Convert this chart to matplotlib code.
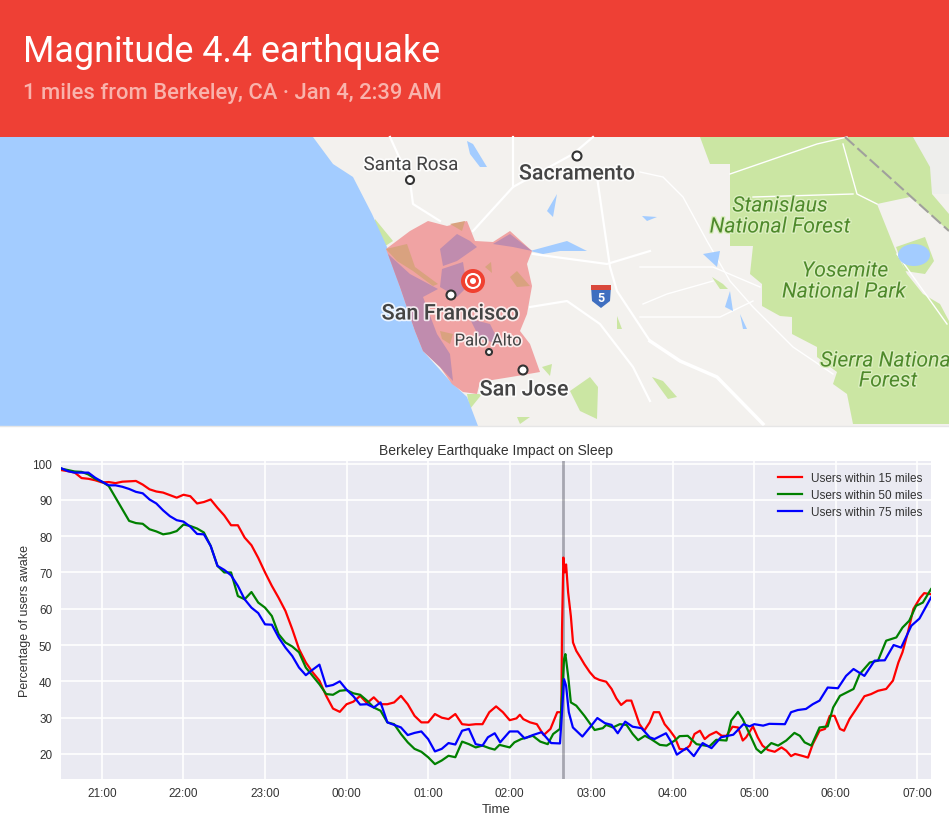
import matplotlib
matplotlib.use("Agg")
import matplotlib.pyplot as plt
import matplotlib.patheffects as pe
from matplotlib.patches import Circle, Ellipse, Polygon, Rectangle

# minutes after midnight on the chart, negative = evening before
grid_before = [-210 + 5 * k for k in range(62)]

values_15_before = [98.2, 97.9, 97.5, 96, 95.8, 95.4, 94.8, 94.9, 94.6, 95, 95.1, 95.2, 94.2, 92.9, 92.3, 92,
                    91.3, 90.6, 91.4, 91, 89, 89.4, 90.1, 87.8, 85.7, 83, 83, 79.6, 77.5, 74, 70, 66.3,
                    63, 59.4, 54.4, 48.9, 45.2, 42.5, 40.2, 36, 32.5, 31.6, 33.7, 34.4, 36, 34, 35.6, 33.7,
                    33.7, 34.2, 36, 33.7, 30.5, 28.7, 28.7, 31, 30, 29.6, 31, 28.2, 28, 28.2]
times_15_after = [100, 105, 110, 115, 120, 125, 127.5, 130, 135, 140, 145, 150, 155, 158, 158.5, 159.5, 160.5,
                  161.5, 163, 165, 166.6, 169, 172, 175, 179, 182.5, 186, 191, 195, 198.5, 202, 206, 209.5,
                  212.5, 215.5, 219, 223, 226, 230, 234, 238, 241.5, 245, 249, 252.5, 256, 260, 263.5, 267,
                  272, 276, 279.5, 284, 288, 291.5, 294, 299, 302.5, 306, 310, 315, 320, 323.5, 327, 330,
                  336, 339.5, 343, 348, 352, 355.5, 359, 363, 366, 370, 375, 381, 386, 391, 397, 402, 406,
                  409, 413, 417, 422, 425, 430]
values_15_after = [28.2, 31.5, 33.1, 31.5, 29.3, 29.8, 30.8, 29.6, 28.7, 28.2, 25.2, 26.9, 31.5, 31.5, 54, 74.1, 70,
                   72.2, 64.5, 58, 50.7, 48.4, 46.6, 44.7, 42.5, 41, 40.4, 39.9, 37.9, 35.3, 33.5, 34.7, 34.7,
                   31.5, 28.2, 26.4, 28.7, 31.5, 31.5, 28.2, 26.4, 24.6, 21.4, 21.2, 22.3, 25.5, 26.4, 24.1, 25.2,
                   26.1, 25, 25, 27.5, 27.3, 23.7, 24.6, 27.6, 24.6, 22.3, 21.1, 20.6, 21.8, 20.9, 19.4, 20,
                   19.4, 19, 22.7, 26.4, 26.9, 30.5, 30.5, 26.9, 26.4, 29.6, 32.4, 35.9, 36.5, 37.4, 37.9, 40.2, 45.2,
                   48, 53.5, 59.9, 63, 64.3, 64]

values_50_before = [98.6, 98.2, 97.8, 97.7, 97, 95.8, 95, 93.8, 90.6, 87.4, 84.2, 83.6, 83.4, 81.9, 81.3, 80.5,
                    80.8, 81.4, 83.2, 82.8, 82.1, 81, 77.3, 71.8, 70, 70, 63.5, 62.6, 64.6, 61.7, 60.3, 58,
                    53, 50.7, 49.6, 48, 43.8, 41.5, 39.2, 36.5, 36.3, 37.4, 37.6, 36.7, 36.3, 34.7, 32.8, 31.9,
                    28.7, 28.2, 25.5, 23.2, 21.4, 20.6, 19.1, 17.2, 18.2, 19.5, 19.1, 23.4, 22.7, 21.8]
times_50_after = [100, 105, 109, 112.5, 120, 123.5, 128.5, 137, 142.5, 148, 152, 157, 158.5, 160, 161, 163, 165,
                  169, 175, 182.5, 188.5, 191, 196, 201, 206, 210.5, 214.5, 219.5, 224, 230.5, 235.5, 241.5, 245,
                  251, 257.5, 267, 272, 279.5, 283, 288, 291.5, 296.5, 301.5, 305, 312.5, 317.5, 323.5, 329.5,
                  333.5, 337, 342, 348, 354, 358, 363, 373, 377.5, 385, 391, 397, 404.5, 409, 414, 419, 424, 430]
values_50_after = [22.3, 21.6, 21.2, 22.5, 21.8, 23.2, 24.1, 25, 23.4, 22.7, 25.5, 26.9, 36, 46.1, 47.5, 41.5, 34.2,
                   33.3, 30.5, 26.6, 27.1, 28, 27.3, 28.2, 28, 25.5, 23.8, 25, 24.1, 22.5, 22.3, 23.7, 24.9,
                   25, 22.7, 22.1, 23.9, 23.7, 29.2, 31.6, 29.6, 25.5, 21.4, 20.3, 23, 22.3, 23.7, 25.8,
                   25, 23.2, 22.3, 27.3, 27.6, 32.8, 36, 37.9, 42, 45.2, 45.7, 51.2, 52.1, 54.8, 56.7, 60.8, 61.7, 65.4]

values_75_before = [98.7, 97.9, 97.5, 97.5, 97.5, 96.1, 95, 94, 94, 93.6, 93, 92.2, 91.8, 90.1, 89, 87.1,
                    85.5, 84.4, 84, 82.6, 80.6, 80.5, 77.3, 71.8, 70.7, 69.2, 66.3, 62.6, 60.3, 58.8, 55.7, 55.6,
                    52.1, 49.3, 47, 43.8, 41.7, 43.2, 44.6, 38.6, 39, 40, 37.7, 35.9, 33.6, 33.7, 32.8, 34.2,
                    28.7, 28, 27.3, 25.2, 25.8, 26.2, 24.1, 20.7, 21.4, 23, 22.6, 26.4, 26.9, 22.7]
times_75_after = [100, 104, 109, 113, 120, 126, 131, 137, 143.5, 150.5, 157, 158.5, 160, 161.5, 163.5, 166.5,
                  173.5, 179, 184.5, 190, 195, 199.5, 205, 210.5, 217, 223, 226.5, 235, 239, 243, 250, 255.5,
                  262, 268.5, 275.5, 284.5, 292, 296.5, 300, 306.5, 311, 322.5, 327, 332, 338, 343, 348, 354,
                  361.5, 367.5, 373, 381, 388.5, 396, 402.5, 408, 415.5, 421.5, 430]
values_75_after = [22.3, 24.6, 25.7, 23.2, 26.2, 26.2, 24.3, 25.2, 26, 23, 22.9, 31.5, 40.6, 38.8, 31.5, 27.3,
                   24.8, 27.3, 29.9, 28.5, 28, 25.7, 28.9, 27.5, 27.1, 24.6, 24.1, 25.7, 23.2, 19.8, 21.6, 19.4,
                   23, 21.6, 24.6, 25.3, 28.2, 27.6, 28.2, 27.8, 28.3, 28.2, 31.5, 32.1, 32.4, 33.7, 34.7, 38.3,
                   38.1, 41.5, 43.4, 41.5, 45.7, 45.8, 50, 49.3, 55.3, 57.3, 63.1]

quake_minute = 159.5
hour_ticks = [-180, -120, -60, 0, 60, 120, 180, 240, 300, 360, 420]
hour_labels = ['21:00', '22:00', '23:00', '00:00', '01:00', '02:00', '03:00', '04:00', '05:00', '06:00', '07:00']
percent_ticks = [20, 30, 40, 50, 60, 70, 80, 90, 100]

# map shapes, in picture pixels
ocean = [(0, 138), (313, 138), (333, 165), (353, 178), (372, 215), (387, 248), (400, 288), (415, 332), (423, 352),
         (450, 382), (467, 398), (478, 427), (0, 427)]
shake_zone = [(386, 250), (410, 232), (428, 222), (447, 227), (467, 222), (475, 242), (493, 243), (510, 232),
              (532, 252), (527, 265), (532, 287), (527, 315), (520, 332), (530, 345), (540, 373), (517, 377),
              (480, 383), (477, 395), (463, 393), (452, 385), (440, 368), (423, 352), (415, 332), (400, 288)]
shake_purple = [
    [(388, 255), (410, 275), (438, 290), (423, 298), (437, 335), (450, 355), (453, 382), (440, 368), (423, 352),
     (415, 332), (400, 288)],
    [(440, 250), (457, 235), (470, 242), (477, 248), (457, 262), (443, 267)],
    [(493, 245), (510, 235), (532, 252), (513, 248)],
    [(442, 270), (463, 263), (467, 288), (457, 298), (440, 288)],
    [(470, 320), (490, 325), (500, 345), (480, 340)],
]
shake_orange = [
    [(386, 250), (407, 245), (415, 268), (438, 285), (433, 287), (413, 272), (397, 262)],
    [(510, 278), (517, 272), (530, 287), (517, 288)],
    [(440, 332), (453, 335), (450, 345), (442, 340)],
    [(450, 225), (465, 222), (462, 232)],
    [(485, 268), (491, 263), (492, 274)],
]
forest = [(700, 138), (710, 165), (730, 165), (730, 247), (753, 247), (750, 275), (762, 285), (762, 307), (780, 317),
          (792, 318), (792, 335), (817, 348), (817, 358), (837, 373), (833, 385), (847, 395), (853, 425), (949, 425),
          (949, 322), (940, 305), (923, 295), (907, 275), (897, 255), (877, 205), (910, 198), (949, 232), (949, 215),
          (932, 195), (930, 168), (913, 138)]
small_green = [
    [(375, 220), (393, 242), (370, 257)],
    [(467, 395), (482, 395), (470, 410)],
    [(570, 392), (590, 378), (598, 388), (597, 420), (580, 412)],
    [(517, 418), (530, 418), (520, 425)],
    [(542, 368), (552, 365), (550, 377)],
    [(617, 317), (622, 330), (617, 330)],
    [(652, 378), (663, 382), (677, 398), (668, 400)],
    [(712, 278), (723, 285), (728, 290), (720, 290)],
    [(896, 248), (925, 238), (934, 262), (925, 275), (905, 272)],
]
lakes = [
    [(467, 142), (473, 145), (487, 168), (480, 168), (470, 155)],
    [(557, 195), (547, 212), (553, 218)],
    [(530, 252), (567, 242), (587, 252), (560, 252), (543, 255)],
    [(703, 255), (720, 252), (717, 268)],
    [(730, 292), (733, 312), (725, 308)],
    [(740, 315), (747, 330), (743, 330)],
    [(642, 217), (657, 218), (647, 222)],
]
main_roads = [
    [(390, 138), (410, 182), (413, 205), (440, 222)],
    [(473, 232), (513, 188), (573, 155), (593, 138)],
    [(513, 138), (513, 188)],
    [(597, 178), (610, 268), (617, 292), (650, 342)],
    [(530, 308), (567, 302), (600, 325), (633, 368), (650, 402)],
    [(533, 255), (607, 265), (650, 252)],
]
thin_roads = [
    [(640, 173), (663, 178), (683, 198), (707, 242), (730, 282), (753, 308), (793, 348), (833, 375)],
    [(640, 268), (713, 268), (760, 288)],
    [(643, 305), (667, 295), (713, 282)],
    [(640, 318), (720, 318), (753, 302)],
    [(730, 175), (817, 145), (847, 138)],
    [(843, 145), (857, 195), (877, 205)],
    [(753, 198), (853, 195)],
    [(897, 255), (947, 325)],
]
interstate = [(650, 342), (680, 362), (717, 378), (763, 425)]
state_line = [(845, 138), (949, 232)]
city_dots = [(410, 181, 4.0), (577, 157, 4.5), (451, 296, 4.5), (489, 353, 3.0), (523, 371, 4.5)]

fig = plt.figure(figsize=(9.49, 8.2), dpi=100, facecolor='white')

# banner and map, drawn in picture pixels
bg = fig.add_axes([0, 0, 1, 1])
bg.set_xlim(0, 949)
bg.set_ylim(820, 0)
bg.axis('off')
bg.add_patch(Rectangle((0, 0), 949, 138, color='#ee4035', lw=0))
bg.add_patch(Rectangle((0, 138), 949, 289, color='#f3f1ee', lw=0, zorder=1))
bg.add_patch(Polygon(forest, color='#cbe6a3', lw=0, zorder=1.2))
bg.add_patch(Rectangle((913, 138), 36, 57, color='#eeeeec', lw=0, zorder=1.1))
for pts in small_green:
    bg.add_patch(Polygon(pts, color='#cbe6a3', lw=0, zorder=1.3))
for pts in thin_roads:
    bg.plot(*zip(*pts), color='white', lw=1, zorder=1.4)
for pts in main_roads:
    bg.plot(*zip(*pts), color='white', lw=1.6, zorder=1.4)
bg.plot(*zip(*interstate), color='white', lw=2.5, zorder=1.4)
bg.plot(*zip(*state_line), color='#a0a09c', lw=1.5, ls=(0, (6, 2)), zorder=1.5)
for pts in lakes:
    bg.add_patch(Polygon(pts, color='#a3ccff', lw=0, zorder=1.5))
bg.add_patch(Ellipse((914, 256), 32, 22, color='#a3ccff', lw=0, zorder=1.5))
bg.add_patch(Polygon(ocean, color='#a3ccff', lw=0, zorder=1.6))
bg.add_patch(Polygon(shake_zone, color='#f0a3a3', lw=0, zorder=2))
for pts in shake_purple:
    bg.add_patch(Polygon(pts, color='#c08cae', lw=0, zorder=2.1))
for pts in shake_orange:
    bg.add_patch(Polygon(pts, color='#d9a27f', lw=0, zorder=2.2))
bg.add_patch(Rectangle((0, 427), 949, 393, color='white', lw=0, zorder=2.5))
bg.plot([0, 949], [427, 427], color='#e6e6e6', lw=1, zorder=2.6)

for x, y, r in city_dots:
    bg.add_patch(Circle((x, y), r, fc='white', ec='#333333', lw=1.5, zorder=3))
bg.add_patch(Circle((473, 282), 12, fc='#f04030', ec='none', zorder=3))
bg.add_patch(Circle((473, 282), 7, fc='none', ec='white', lw=1.5, zorder=3.1))
bg.add_patch(Circle((473, 282), 3, fc='white', ec='none', zorder=3.1))
bg.add_patch(Polygon([(591, 287), (611, 287), (610, 302), (601, 309), (592, 302)], color='#3f6fc0', lw=0, zorder=3))
bg.add_patch(Rectangle((591, 286), 20, 5, color='#d9483b', lw=0, zorder=3.1))
bg.text(601, 299, '5', color='white', fontsize=9, fontweight='bold', family='Roboto',
        ha='center', va='center', zorder=3.2)

halo = [pe.withStroke(linewidth=2.5, foreground='white', alpha=0.8)]
city_labels = [('Santa Rosa', 411, 166, 13.5, 'normal'), ('Sacramento', 577, 175, 15.4, 'medium'),
               ('San Francisco', 450, 315, 15.6, 'medium'), ('Palo Alto', 488, 342, 12, 'normal'),
               ('San Jose', 524, 391, 15.5, 'medium')]
for name, x, y, size, weight in city_labels:
    bg.text(x, y, name, family='Roboto', fontsize=size, fontweight=weight, color='#444444', ha='center',
            va='center', zorder=4, path_effects=halo)
# "Sierra National" runs off the right edge in the reference too
park_labels = [('Stanislaus', 780, 207), ('National Forest', 780, 228), ('Yosemite', 845, 272),
               ('National Park', 844, 293), ('Sierra National', 888, 362), ('Forest', 888, 382)]
for name, x, y in park_labels:
    bg.text(x, y, name, family='Roboto', fontsize=15.3, style='italic', color='#4f8a2c', ha='center', va='center',
            zorder=4, clip_on=True, path_effects=[pe.withStroke(linewidth=2, foreground='#dcefc0')])

bg.text(23, 52, 'Magnitude 4.4 earthquake', family='Roboto', fontsize=25.8, color='white', va='center', zorder=4)
bg.text(23, 94, '1 miles from Berkeley, CA · Jan 4, 2:39 AM', family='Roboto', fontsize=15.8, fontweight='medium',
        color='#f9b3ac', va='center', zorder=4)

# the sleep chart
ax = fig.add_axes([60.5 / 949, 1 - 780 / 820, 870.5 / 949, 318 / 820], facecolor='#eaeaf2')
for side in ax.spines.values():
    side.set_visible(False)
ax.grid(True, color='white', lw=1.2)
ax.set_axisbelow(True)
ax.tick_params(length=0, labelsize=8.5, labelcolor='#333333', pad=6)

ax.axvline(quake_minute, color='#555560', lw=2, alpha=0.45)
ax.plot(grid_before + times_15_after, values_15_before + values_15_after, color='red', lw=1.6,
        label='Users within 15 miles')
ax.plot(grid_before + times_50_after, values_50_before + values_50_after, color='green', lw=1.6,
        label='Users within 50 miles')
ax.plot(grid_before + times_75_after, values_75_before + values_75_after, color='blue', lw=1.6,
        label='Users within 75 miles')

ax.set_xlim(-210.5, 430)
ax.set_ylim(13.1, 100.7)
ax.set_xticks(hour_ticks, hour_labels)
ax.set_yticks(percent_ticks)
for tick in ax.get_xticklabels() + ax.get_yticklabels():
    tick.set_family('Liberation Sans')
ax.set_xlabel('Time', family='Liberation Sans', fontsize=9.5, color='#333333', labelpad=3)
ax.set_ylabel('Percentage of users awake', family='Liberation Sans', fontsize=9, color='#333333', labelpad=1)
ax.set_title('Berkeley Earthquake Impact on Sleep', family='Liberation Sans', fontsize=10, color='#333333', pad=5)
ax.legend(loc='upper right', bbox_to_anchor=(1.0, 0.992), frameon=False,
          prop={'family': 'Liberation Sans', 'size': 8.5}, labelcolor='#333333', labelspacing=0.42, borderaxespad=0.3)

fig.savefig('out.png', dpi=100)
